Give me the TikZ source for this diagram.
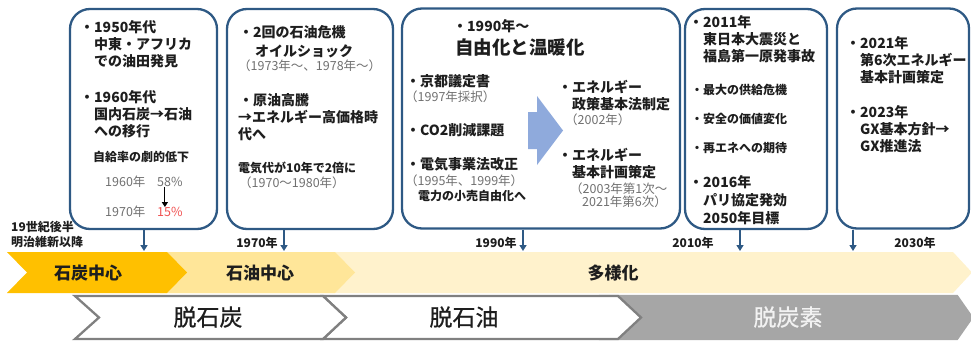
\documentclass[tikz,border=0pt]{standalone}
\usepackage{fontspec}
\setmainfont{Noto Sans CJK JP}
\newfontfamily\phasefont{Noto Sans CJK JP}[FakeBold=0.8]
\usetikzlibrary{arrows.meta}
\definecolor{boxblue}{RGB}{46,89,132}
\definecolor{coalgold}{RGB}{255,192,0}
\definecolor{oilyellow}{RGB}{255,230,153}
\definecolor{mixcream}{RGB}{255,242,204}
\definecolor{chevgray}{RGB}{128,128,128}
\definecolor{carbongray}{RGB}{166,166,166}
\definecolor{notegray}{RGB}{112,112,112}
\definecolor{dropred}{RGB}{240,80,80}
\definecolor{arrowblue}{RGB}{143,170,220}
\definecolor{ink}{RGB}{30,30,30}

\begin{document}
\begin{tikzpicture}[line join=miter, x={(1pt,0)}, y={(0,-1pt)},
  ebox/.style={draw=boxblue, line width=2.3pt, rounded corners=20pt, minimum height=220pt, inner sep=0pt},
  stem/.style={draw=boxblue, line width=2pt, -{Triangle[width=7pt,length=6pt]}},
  main/.style={text=ink, font=\bfseries\fontsize{14}{17}\selectfont, align=left, inner sep=0pt},
  small/.style={text=ink, font=\bfseries\fontsize{12}{15}\selectfont, inner sep=0pt},
  note/.style={text=notegray, font=\fontsize{12.5}{15}\selectfont, inner sep=0pt},
  year/.style={text=ink, font=\bfseries\fontsize{12}{15}\selectfont, align=left, inner sep=0pt},
  headline/.style={text=ink, font=\bfseries\fontsize{18.5}{22}\selectfont, inner sep=0pt},
  bandtxt/.style={text=ink, font=\bfseries\fontsize{17}{20}\selectfont, inner sep=0pt},
  phase/.style={text=ink, font=\phasefont\fontsize{23}{26}\selectfont, inner sep=0pt},
  chev/.style={fill=white, draw=chevgray, line width=2.3pt}]

  \useasboundingbox (0,0) rectangle (971,343);

  % upper band
  \path[fill=mixcream] (160,252) -- (953,252) -- (972,272.5) -- (953,293) -- (160,293) -- cycle;
  \path[fill=oilyellow] (160,252) -- (335,252) -- (355,272.5) -- (335,293) -- (160,293) -- cycle;
  \path[fill=coalgold] (7,252) -- (167,252) -- (187,272.5) -- (167,293) -- (7,293) -- (27,272.5) -- cycle;
  \node[bandtxt] (coal) at (88,273) {石炭中心};
  \node[bandtxt] (oil) at (260,273) {石油中心};
  \node[bandtxt] (mix) at (613,273) {多様化};

  % lower band
  \path[fill=carbongray, draw=carbongray, line width=2.3pt] (600,296) -- (957,296) -- (972,317.5) -- (957,339) -- (600,339) -- cycle;
  \path[chev] (323,296) -- (618,296) -- (641,317.5) -- (618,339) -- (323,339) -- (346,317.5) -- cycle;
  \path[chev] (75,296) -- (323,296) -- (346,317.5) -- (323,339) -- (75,339) -- (99,317.5) -- cycle;
  \node[phase] (dcoal) at (208,317) {脱石炭};
  \node[phase] (doil) at (464,317) {脱石油};
  \node[phase, text=white!95!black] (dcarbon) at (788,317) {脱炭素};

  % years
  \node[year, anchor=north west] (era) at (11,221) {19世紀後半\\明治維新以降};
  \node[year] (y1970) at (257,243) {1970年};
  \node[year] (y1990) at (496,243) {1990年};
  \node[year] (y2010) at (693,243) {2010年};
  \node[year] (y2030) at (915,243) {2030年};

  % boxes and stems
  \node[ebox, minimum width=147pt] (box1) at (143.5,119) {};
  \node[ebox, minimum width=166pt] (box2) at (310,119) {};
  \node[ebox, minimum width=278pt] (box3) at (541,118.5) {};
  \node[ebox, minimum width=142pt] (box4) at (756,119) {};
  \node[ebox, minimum width=132pt] (box5) at (903,118.5) {};
  \coordinate (t1) at (144,251);
  \coordinate (t2) at (284,251);
  \coordinate (t3) at (523,251);
  \coordinate (t4) at (740,251);
  \coordinate (t5) at (853,251);
  \draw[stem] (box1.south -| t1) -- (t1);
  \draw[stem] (box2.south -| t2) -- (t2);
  \draw[stem] (box3.south -| t3) -- (t3);
  \draw[stem] (box4.south -| t4) -- (t4);
  \draw[stem] (box5.south -| t5) -- (t5);

  % box 1
  \node[main, anchor=north west] (b1a) at (80,20) {・1950年代\\\hspace*{1em}中東・アフリカ\\\hspace*{1em}での油田発見};
  \node[main, anchor=north west] (b1b) at (80,90) {・1960年代\\\hspace*{1em}国内石炭→石油\\\hspace*{1em}への移行};
  \node[small, anchor=west] (b1c) at (93,157) {自給率の劇的低下};
  \node[note, anchor=west] (y60) at (105,182) {1960年};
  \node[note, anchor=west] (p58) at (157,182) {58\%};
  \node[note, anchor=west] (y70) at (105,212) {1970年};
  \node[note, anchor=west, text=dropred] (p15) at (157,212) {15\%};
  \draw[-{Triangle[width=6pt,length=5pt]}, line width=1.2pt] ([xshift=-5pt]p58.south) -- ([xshift=-5pt]p15.north);

  % box 2
  \node[main, anchor=west] (b2a) at (239,32) {・2回の石油危機};
  \node[main, anchor=west] (b2b) at (255,51) {オイルショック};
  \node[note, anchor=west] (b2c) at (238,66) {（1973年～、1978年～）};
  \node[main, anchor=west] (b2d) at (239,100) {・原油高騰};
  \node[main, anchor=north west] (b2e) at (238,110) {→エネルギー高価格時\\代へ};
  \node[small, anchor=west] (b2f) at (238,168) {電気代が10年で2倍に};
  \node[note, anchor=west] (b2g) at (239,183) {（1970～1980年）};

  % box 3
  \node[main, anchor=west] (b3a) at (453,26) {・1990年～};
  \node[headline, anchor=west] (b3b) at (455,47) {自由化と温暖化};
  \node[main, anchor=west] (b3c) at (406,81) {・京都議定書};
  \node[note, anchor=west] (b3d) at (405,97) {（1997年採択）};
  \node[main, anchor=west] (b3e) at (406,130) {・CO2削減課題};
  \node[main, anchor=west] (b3f) at (406,164) {・電気事業法改正};
  \node[note, anchor=west] (b3g) at (405,181) {（1995年、1999年）};
  \node[small, anchor=west] (b3h) at (418,196) {電力の小売自由化へ};
  \path[fill=arrowblue] (528,112) -- (537,112) -- (537,96) -- (563,130.5) -- (537,165) -- (537,149) -- (528,149) -- cycle;
  \node[main, anchor=north west] (b3i) at (558,80) {・エネルギー\\\hspace*{1em}政策基本法制定};
  \node[note, anchor=west] (b3k) at (565,120) {（2002年）};
  \node[main, anchor=north west] (b3l) at (558,148) {・エネルギー\\\hspace*{1em}基本計画策定};
  \node[note, anchor=west] (b3n) at (570,189) {（2003年第1次～};
  \node[note, anchor=west] (b3o) at (582,202) {2021年第6次）};

  % box 4
  \node[main, anchor=west] (b4a) at (689,22) {・2011年};
  \node[main, anchor=north west] (b4b) at (703,32) {東日本大震災と\\福島第一原発事故};
  \node[small, anchor=west] (b4c) at (691,90) {・最大の供給危機};
  \node[small, anchor=west] (b4d) at (691,119) {・安全の価値変化};
  \node[small, anchor=west] (b4e) at (691,148) {・再エネへの期待};
  \node[main, anchor=north west, font=\bfseries\fontsize{14}{18}\selectfont] (b4f) at (689,175) {・2016年\\\hspace*{1em}パリ協定発効\\\hspace*{1em}2050年目標};

  % box 5
  \node[main, anchor=north west] (b5a) at (846,36) {・2021年\\\hspace*{1em}第6次エネルギー\\\hspace*{1em}基本計画策定};
  \node[main, anchor=north west] (b5b) at (846,105) {・2023年\\\hspace*{1em}GX基本方針→\\\hspace*{1em}GX推進法};
\end{tikzpicture}
\end{document}
